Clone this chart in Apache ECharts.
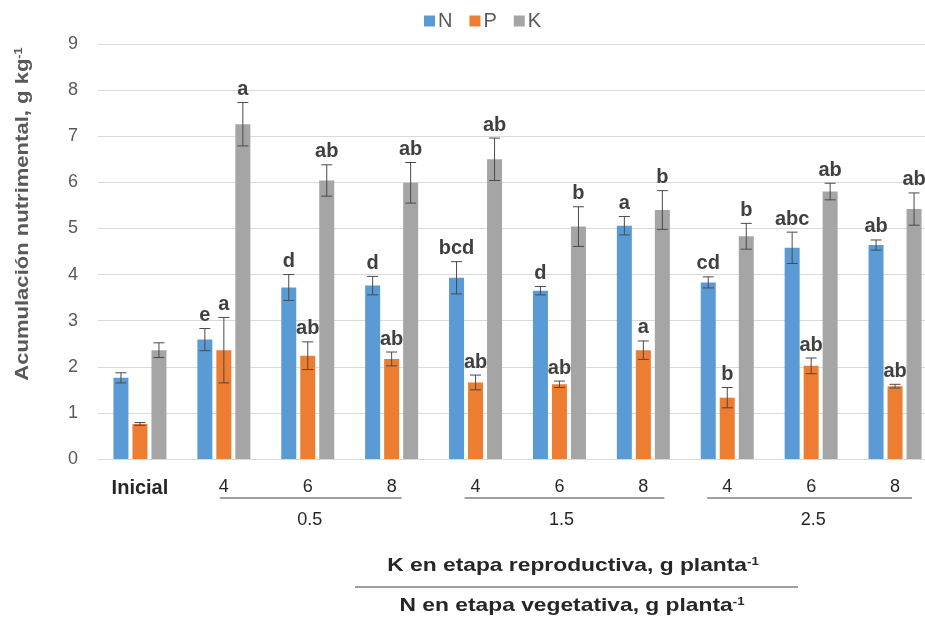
<!DOCTYPE html>
<html>
<head>
<meta charset="utf-8">
<script src="https://cdn.jsdelivr.net/npm/echarts@6/dist/echarts.min.js"></script>
<style>html,body{margin:0;padding:0;background:#fff;overflow:hidden;}#c{width:945px;height:625px;}</style>
</head>
<body>
<div id="c"></div>
<script>
const categories = ['Inicial','4','6','8','4','6','8','4','6','8'];
const groupLabels = ['0.5','1.5','2.5'];
const seriesNames = ['N','P','K'];
const nVals = [1.76, 2.59, 3.72, 3.76, 3.93, 3.65, 5.06, 3.83, 4.58, 4.64];
const pVals = [0.76, 2.36, 2.24, 2.17, 1.66, 1.62, 2.36, 1.33, 2.02, 1.58];
const kVals = [2.36, 7.26, 6.04, 5.99, 6.50, 5.04, 5.40, 4.83, 5.80, 5.42];
const nErr = [0.11, 0.24, 0.28, 0.20, 0.35, 0.09, 0.20, 0.12, 0.34, 0.11];
const pErr = [0.03, 0.71, 0.30, 0.15, 0.16, 0.07, 0.20, 0.22, 0.17, 0.04];
const kErr = [0.16, 0.47, 0.34, 0.44, 0.46, 0.43, 0.42, 0.28, 0.18, 0.35];
const nLetters = ['', 'e', 'd', 'd', 'bcd', 'd', 'a', 'cd', 'abc', 'ab'];
const pLetters = ['', 'a', 'ab', 'ab', 'ab', 'ab', 'a', 'b', 'ab', 'ab'];
const kLetters = ['', 'a', 'ab', 'ab', 'ab', 'b', 'b', 'b', 'ab', 'ab'];
const yTicks = [0, 9, 1];

const colors = ['#5B9BD5', '#ED7D31', '#A5A5A5'];
const FONT = '"Liberation Sans", Arial, sans-serif';
const BAR_W = 15, BAR_GAP = 4;

const chart = echarts.init(document.getElementById('c'), null, {renderer: 'canvas'});

function errSeries(vals, errs, letters, idx) {
  const offset = (idx - 1) * (BAR_W + BAR_GAP);
  return {
    type: 'custom',
    name: seriesNames[idx] + '_err',
    z: 10,
    silent: true,
    data: vals.map((v, i) => [i, v, errs[i]]),
    encode: {x: 0, y: 1},
    renderItem: function (params, api) {
      const ci = api.value(0), v = api.value(1), e = api.value(2);
      const letter = letters[params.dataIndex];
      const x = api.coord([ci, v])[0] + offset;
      const yTop = api.coord([ci, v + e])[1];
      const yBot = api.coord([ci, v - e])[1];
      const cap = 5.5;
      const st = {stroke: '#4a4a4a', lineWidth: 1};
      const children = [
        {type: 'line', shape: {x1: x, y1: yTop, x2: x, y2: yBot}, style: st},
        {type: 'line', shape: {x1: x - cap, y1: yTop, x2: x + cap, y2: yTop}, style: st},
        {type: 'line', shape: {x1: x - cap, y1: yBot, x2: x + cap, y2: yBot}, style: st}
      ];
      if (letter) {
        children.push({type: 'text', x: x, y: yTop - 3, style: {
          text: letter, fill: '#404040', fontSize: 20, fontWeight: 'bold', fontFamily: FONT,
          textAlign: 'center', textVerticalAlign: 'bottom'
        }});
      }
      return {type: 'group', children: children};
    }
  };
}

const barSeries = [nVals, pVals, kVals].map((vals, i) => ({
  type: 'bar', name: seriesNames[i], data: vals,
  barWidth: BAR_W, barGap: (BAR_GAP / BAR_W * 100) + '%',
  itemStyle: {color: colors[i]},
  emphasis: {disabled: true}
}));

const option = {
  animation: false,
  color: colors,
  textStyle: {fontFamily: FONT},
  legend: {
    data: seriesNames, top: 6, left: 419,
    itemWidth: 11, itemHeight: 11, itemGap: 17,
    icon: 'rect',
    textStyle: {fontSize: 20, color: '#595959', fontFamily: FONT, padding: [0,0,0,-2]}
  },
  grid: {left: 98, top: 44, width: 839, height: 415, containLabel: false},
  xAxis: {
    type: 'category', data: categories,
    axisLine: {show: false}, axisTick: {show: false},
    axisLabel: {
      interval: 0,
      margin: 19, fontSize: 18, color: '#262626', fontFamily: FONT,
      formatter: (v, i) => i === 0 ? '{b|' + v + '}' : v,
      rich: {b: {fontWeight: 'bold', fontSize: 20, color: '#262626', fontFamily: FONT}}
    }
  },
  yAxis: {
    type: 'value', min: yTicks[0], max: yTicks[1], interval: yTicks[2],
    axisLine: {show: false}, axisTick: {show: false},
    axisLabel: {fontSize: 18, color: '#595959', margin: 20, fontFamily: FONT},
    splitLine: {lineStyle: {color: '#D9D9D9', width: 1}}
  },
  series: barSeries.concat([
    errSeries(nVals, nErr, nLetters, 0),
    errSeries(pVals, pErr, pLetters, 1),
    errSeries(kVals, kErr, kLetters, 2)
  ])
};
chart.setOption(option);

// annotation graphics positioned via the axis scale
const cx = i => chart.convertToPixel({xAxisIndex: 0}, i);
const groups = [[1, 3], [4, 6], [7, 9]];
const lineExt = [[-4, 10], [-11, 21], [-20, 17]];
const gfx = [];
const lineY = 498;
groups.forEach((g, k) => {
  const a = cx(g[0]), b = cx(g[1]);
  gfx.push({type: 'line', shape: {x1: a + lineExt[k][0], y1: lineY, x2: b + lineExt[k][1], y2: lineY},
    style: {stroke: '#404040', lineWidth: 1.2}});
  gfx.push({type: 'text', x: (a + b) / 2 + 2, y: 520, style: {
    text: groupLabels[k], fontSize: 18, fontFamily: FONT, fill: '#262626',
    textAlign: 'center', textVerticalAlign: 'middle'}});
});
const titleRich = {
  t: {fontSize: 19, fontWeight: 'bold', fontFamily: FONT, fill: '#262626', color: '#262626'},
  s: {fontSize: 11, fontWeight: 'bold', fontFamily: FONT, fill: '#262626', color: '#262626', padding: [0, 0, 9, 0]}
};
gfx.push({type: 'text', x: 573, y: 566, scaleX: 1.2, style: {
  text: '{t|K en etapa reproductiva, g planta}{s|-1}',
  textAlign: 'center', textVerticalAlign: 'middle', rich: titleRich
}});
gfx.push({type: 'line', shape: {x1: 355, y1: 587, x2: 798, y2: 587},
  style: {stroke: '#404040', lineWidth: 1.2}});
gfx.push({type: 'text', x: 572, y: 606, scaleX: 1.2, style: {
  text: '{t|N en etapa vegetativa, g planta}{s|-1}',
  textAlign: 'center', textVerticalAlign: 'middle', rich: titleRich
}});
gfx.push({type: 'text', x: 23, y: 214, rotation: Math.PI / 2, scaleX: 1.16, style: {
  text: '{t|Acumulación nutrimental, g kg}{s|-1}',
  textAlign: 'center', textVerticalAlign: 'middle',
  rich: {t: {fontSize: 19, fontWeight: 'bold', fontFamily: FONT, fill: '#595959', color: '#595959'},
         s: {fontSize: 11, fontWeight: 'bold', fontFamily: FONT, fill: '#595959', color: '#595959', padding: [0, 0, 9, 0]}}
}});
chart.setOption({graphic: {elements: gfx}});
</script>
</body>
</html>
